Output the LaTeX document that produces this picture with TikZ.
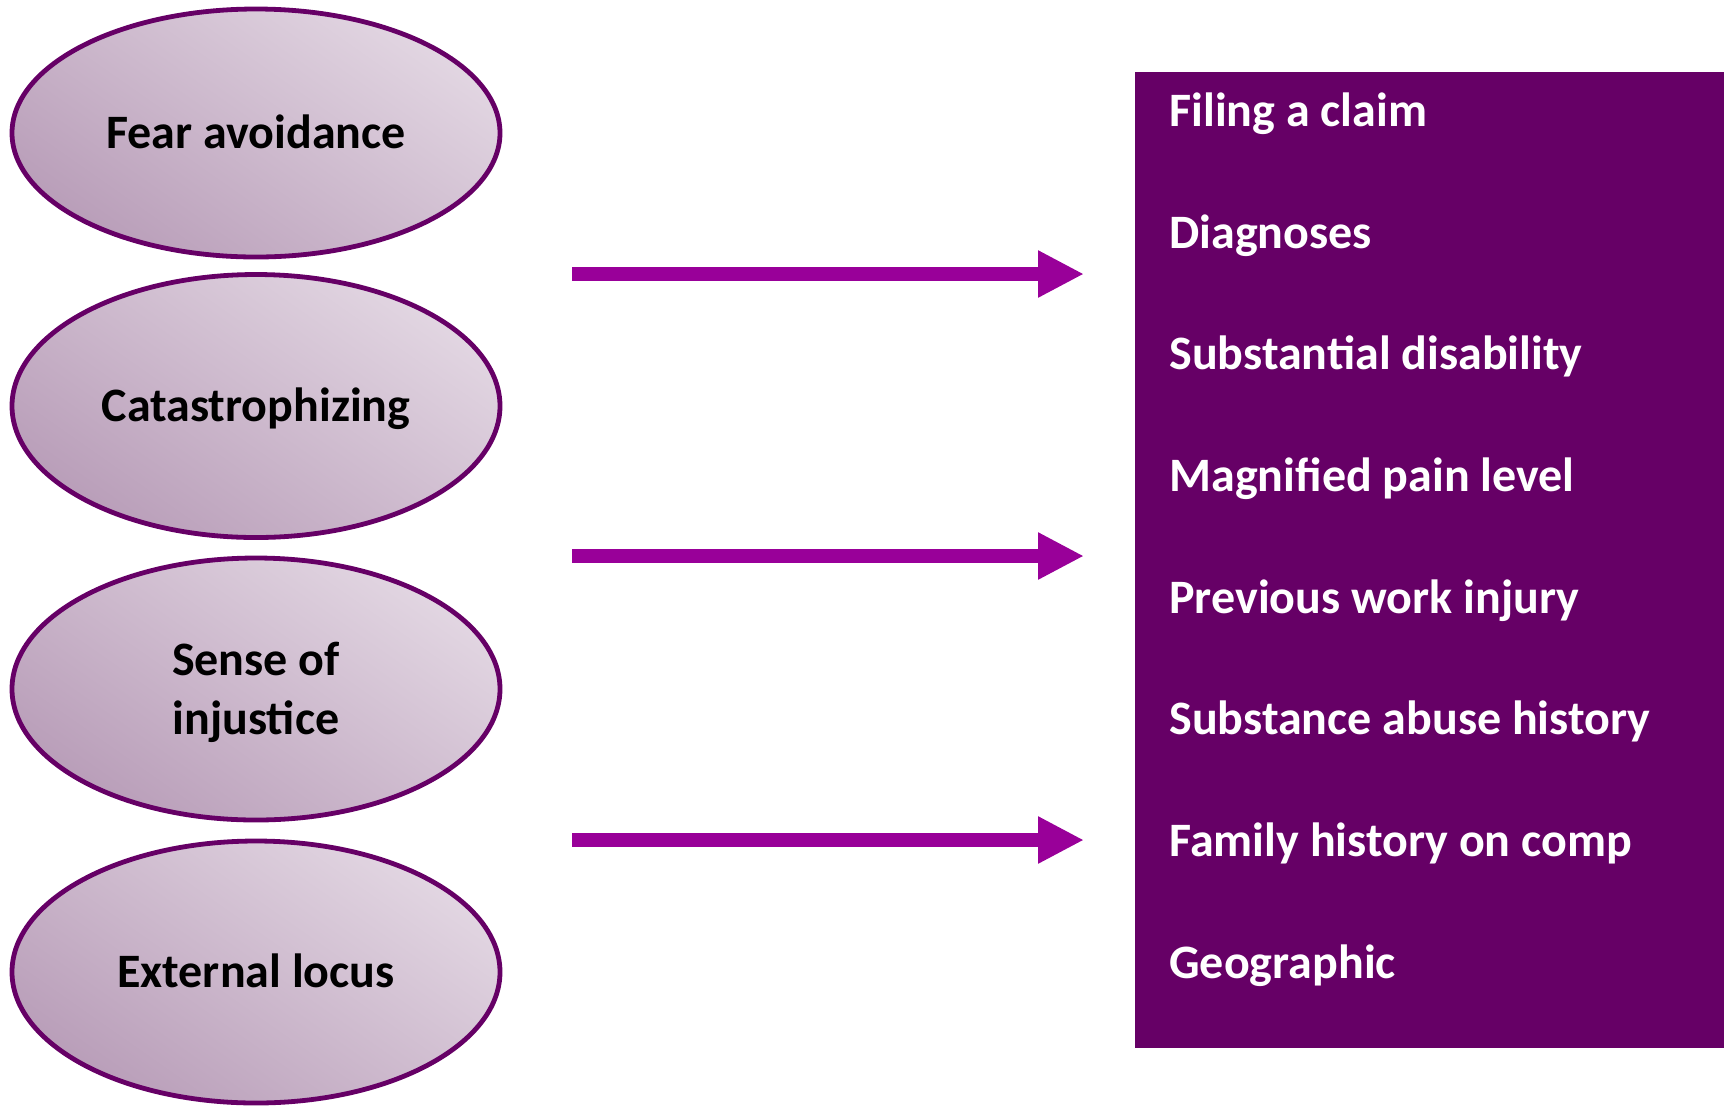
\documentclass[tikz,border=0pt]{standalone}
\usepackage{fontspec}
\setmainfont{Carlito}
\usetikzlibrary{arrows.meta,shapes.geometric}
\definecolor{deep}{HTML}{660066}
\definecolor{arrowc}{HTML}{990099}
\definecolor{ellight}{HTML}{E2D6E2}
\definecolor{eldark}{HTML}{B99EB9}
\tikzset{
  oval/.style={ellipse, draw=deep, line width=2.4pt, minimum width=244pt,
    top color=ellight, bottom color=eldark, shading angle=-35,
    inner sep=0pt, font=\bfseries\fontsize{24}{29.5}\selectfont, text=black,
    align=center},
  onel/.style={text height=16.5pt, text depth=1pt},
  panel/.style={rectangle, fill=deep, inner sep=0pt, anchor=north west,
    minimum width=294.5pt, minimum height=488pt},
  item/.style={anchor=base west, inner sep=0pt, text=white,
    font=\bfseries\fontsize{24}{28}\selectfont},
  bigarrow/.style={draw=arrowc, line width=7pt,
    -{Triangle[length=23pt,width=22pt]}}
}
\begin{document}
\begin{tikzpicture}[x=0.5pt,y=-0.5pt]
\useasboundingbox (0,0) rectangle (1729,1105);
\node[oval, onel, minimum height=124pt] (e1) at (256,133) {Fear avoidance};
\node[oval, onel, minimum height=131.5pt] (e2) at (256,406) {Catastrophizing};
\node[oval, minimum height=131pt] (e3) at (256,689) {\rule{0pt}{20.5pt}Sense of\\injustice};
\node[oval, onel, minimum height=131pt] (e4) at (256,972) {External locus};

\node[panel] (box) at (1135,72) {};
\node[item] (i1) at (1169,126) {Filing a claim};
\node[item] (i2) at (1169,248) {Diagnoses};
\node[item] (i3) at (1169,369) {Substantial disability};
\node[item] (i4) at (1169,491) {Magnified pain level};
\node[item] (i5) at (1169,613) {Previous work injury};
\node[item] (i6) at (1169,734) {Substance abuse history};
\node[item] (i7) at (1169,856) {Family history on comp};
\node[item] (i8) at (1169,978) {Geographic};

\coordinate (s1) at (572,274);
\coordinate (d1) at (1084,274);
\coordinate (s2) at (572,556);
\coordinate (d2) at (1084,556);
\coordinate (s3) at (572,840);
\coordinate (d3) at (1084,840);
\draw[bigarrow] (s1) -- (d1);
\draw[bigarrow] (s2) -- (d2);
\draw[bigarrow] (s3) -- (d3);
\end{tikzpicture}
\end{document}
